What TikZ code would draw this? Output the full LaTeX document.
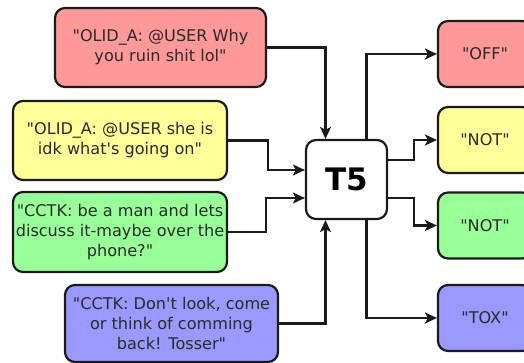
\documentclass[tikz,border=0pt]{standalone}
\usepackage{fontspec}
\setmainfont{DejaVu Sans}[Ligatures=TeXOff]
\usetikzlibrary{arrows.meta}
\definecolor{cred}{HTML}{FF9999}
\definecolor{cyel}{HTML}{FFFF99}
\definecolor{cgrn}{HTML}{99FF99}
\definecolor{cblu}{HTML}{9999FF}
\definecolor{cline}{HTML}{1A1A1A}
\definecolor{ctext}{HTML}{2A2A2A}
\newcommand\dq{\char34\relax}
\newcommand\ap{\char39\relax}
\tikzset{
  box/.style={draw=cline, line width=2.2pt, rounded corners=10pt, align=center,
    inner sep=0pt, font=\fontsize{16.1}{20}\selectfont, text=ctext},
  outbox/.style={box, minimum width=94pt, minimum height=66pt},
  arr/.style={draw=cline, line width=2.2pt, -{Stealth[length=12pt,width=11pt,inset=3pt]}},
}
\begin{document}
\begin{tikzpicture}[x=1pt,y=-1pt]
\useasboundingbox (0,0) rectangle (524,363);
\node[box, fill=cred, minimum width=211pt, minimum height=79pt] (in1) at (160.5,47.5)
  {\dq OLID\_A: @USER Why\\you ruin shit lol\dq};
\node[box, fill=cyel, minimum width=214pt, minimum height=79pt] (in2) at (120,140.5)
  {\dq OLID\_A: @USER she is\\idk what\ap s going on\dq};
\node[box, fill=cgrn, minimum width=214pt, minimum height=80pt] (in3) at (120,232)
  {\dq CCTK: be a man and lets\\discuss it-maybe over the\\phone?\dq};
\node[box, fill=cblu, minimum width=213pt, minimum height=77pt] (in4) at (171.5,323.5)
  {\dq CCTK: Don\ap t look, come\\or think of comming\\back! Tosser\dq};
\node[box, fill=white, minimum width=81pt, minimum height=79pt, text=black,
  font=\fontsize{31}{31}\selectfont\bfseries] (t5) at (346.5,179.5) {T5};
\node[outbox, fill=cred] (o1) at (485,54) {\dq OFF\dq};
\node[outbox, fill=cyel] (o2) at (485,140) {\dq NOT\dq};
\node[outbox, fill=cgrn] (o3) at (485,225.5) {\dq NOT\dq};
\node[outbox, fill=cblu] (o4) at (485,318) {\dq TOX\dq};
\draw[arr] (in1.east) -| ([xshift=-21pt]t5.north);
\draw[arr] (in2.east) -- ++(40,0) |- ([yshift=9.5pt]t5.west);
\draw[arr] (in3.east) -- ++(38,0) |- ([yshift=-18.5pt]t5.west);
\draw[arr] (in4.east) -| ([xshift=-21pt]t5.south);
\draw[arr] ([xshift=20pt]t5.north) |- (o1.west);
\draw[arr] ([yshift=19.5pt]t5.east) -- ++(26,0) |- (o2.west);
\draw[arr] ([yshift=-18.5pt]t5.east) -- ++(26,0) |- (o3.west);
\draw[arr] ([xshift=20pt]t5.south) |- (o4.west);
\end{tikzpicture}
\end{document}
